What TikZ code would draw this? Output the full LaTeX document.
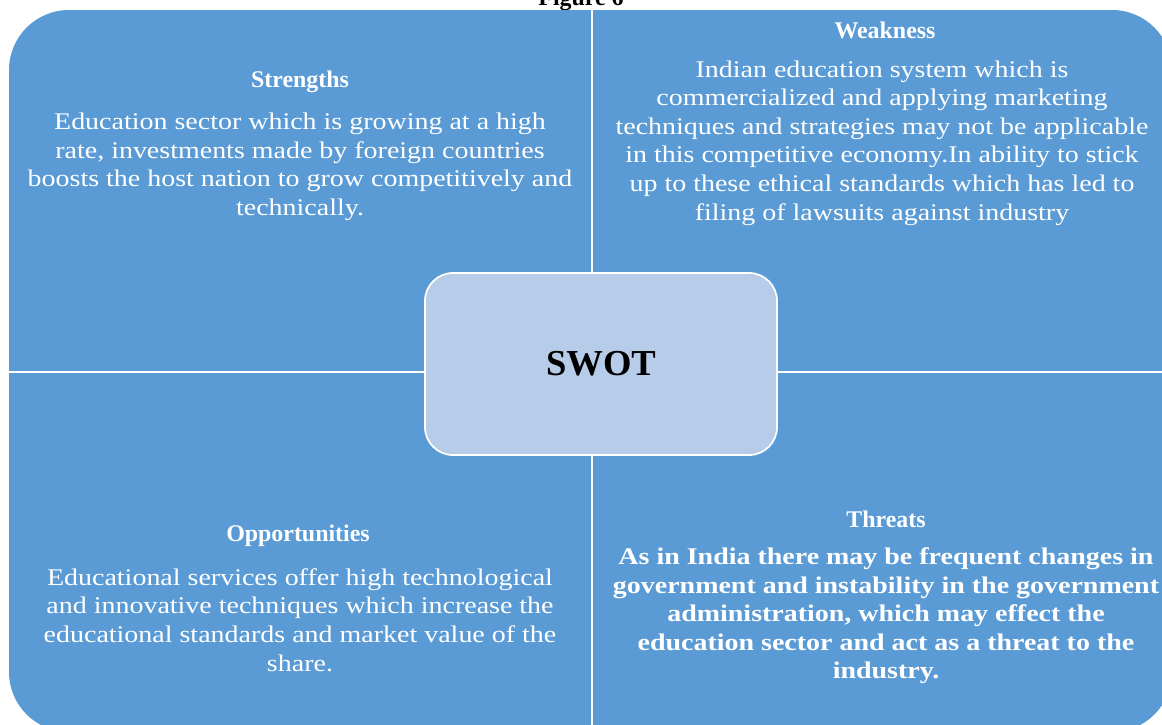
\documentclass[tikz,border=0pt]{standalone}
\usepackage{fontspec}
\setmainfont{Liberation Serif}
\newfontfamily\widefont{Liberation Serif}[FakeStretch=1.17]
\usetikzlibrary{positioning}

\definecolor{quadblue}{HTML}{5B9BD5}
\definecolor{coreblue}{HTML}{B7CCE8}

\tikzset{
	headtext/.style={text=white,font=\fontsize{17}{20}\selectfont\bfseries,inner sep=0pt},
	bodytext/.style={text=white,font=\widefont\fontsize{17}{20.3}\selectfont,align=center,inner sep=0pt},
	divider/.style={white,line width=1.6pt}
}

\begin{document}
\begin{tikzpicture}[x=0.025cm,y=-0.025cm]
		\useasboundingbox (0,0) rectangle (1162,724);
		\node[anchor=base,font=\fontsize{17}{20}\selectfont\bfseries,inner sep=0pt] (fig) at (581,5) {Figure 6};
		% the four quadrants
		\fill[quadblue,rounded corners=1.5cm] (9,10) rectangle (1172,732);
		\draw[divider] (592,10) -- (592,732);
		\draw[divider] (9,372) -- (1172,372);
		\node[draw=white,line width=1.2pt,fill=coreblue,rounded corners=0.7cm,minimum width=8.8cm,minimum height=4.55cm,font=\fontsize{26}{30}\selectfont\bfseries] (swot) at (601,364) {SWOT};
		% strengths
		\node[headtext] (strengths) at (300,82) {Strengths};
		\node[bodytext] (strengthsbody) at (300,167) {Education sector which is growing at a high\\ rate, investments made by foreign countries\\ boosts the host nation to grow competitively and\\ technically.};
		% weakness
		\node[headtext] (weakness) at (885,30) {Weakness};
		\node[bodytext] (weaknessbody) at (882,143) {Indian education system which is\\ commercialized and applying marketing\\ techniques and strategies may not be applicable\\ in this competitive economy.In ability to stick\\ up to these ethical standards which has led to\\ filing of lawsuits against industry};
		% opportunities
		\node[headtext] (opportunities) at (298,536) {Opportunities};
		\node[bodytext] (opportunitiesbody) at (300,620) {Educational services offer high technological\\ and innovative techniques which increase the\\ educational standards and market value of the\\ share.};
		% threats
		\node[headtext] (threats) at (886,519) {Threats};
		\node[bodytext,font=\widefont\fontsize{17}{20.3}\selectfont\bfseries] (threatsbody) at (886,616) {As in India there may be frequent changes in\\ government and instability in the government\\ administration, which may effect the\\ education sector and act as a threat to the\\ industry.};
	\end{tikzpicture}
\end{document}
